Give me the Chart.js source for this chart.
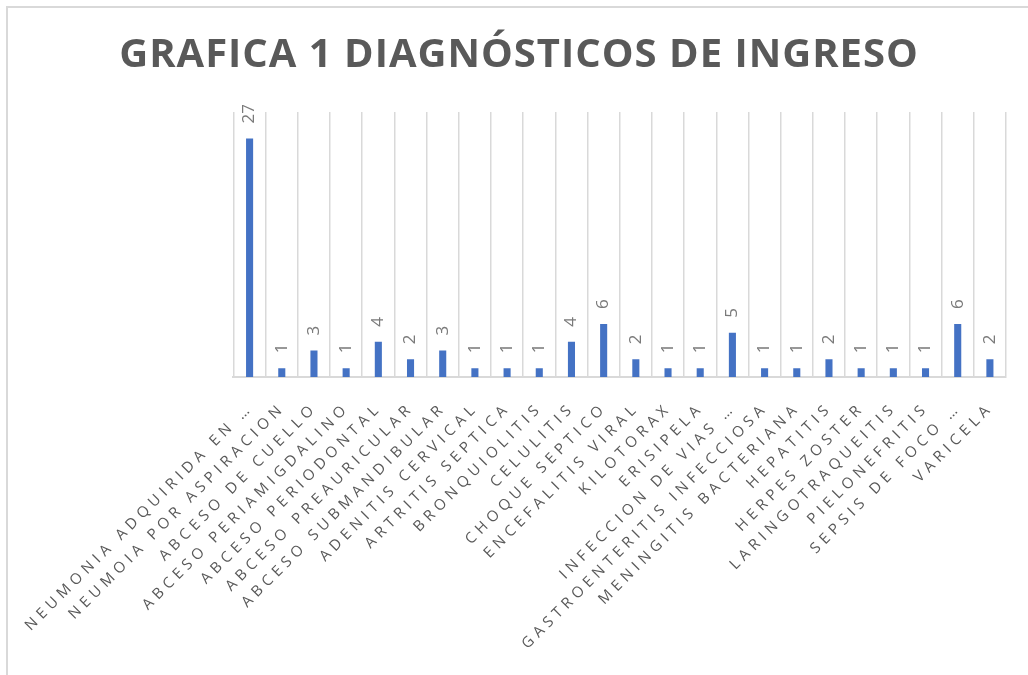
<!DOCTYPE html>
<html>
<head>
<meta charset="utf-8">
<script src="https://cdn.jsdelivr.net/npm/chart.js@4/dist/chart.umd.min.js"></script>
<style>
  html, body { margin: 0; padding: 0; background: #fff; width: 1028px; height: 675px; overflow: hidden; }
  #frame { position: absolute; left: 6px; top: 6px; width: 1100px; height: 700px;
           border-left: 2px solid #d9d9d9; border-top: 2px solid #d9d9d9; }
  #c { position: absolute; left: 0; top: 0; }
</style>
</head>
<body>
<div id="frame"></div>
<canvas id="c" width="1028" height="675"></canvas>
<script>
const titleText = 'GRAFICA 1 DIAGNÓSTICOS DE INGRESO';
const categories = [
  'NEUMONIA ADQUIRIDA EN …',
  'NEUMOIA POR ASPIRACION',
  'ABCESO DE CUELLO',
  'ABCESO PERIAMIGDALINO',
  'ABCESO PERIODONTAL',
  'ABCESO PREAURICULAR',
  'ABCESO SUBMANDIBULAR',
  'ADENITIS CERVICAL',
  'ARTRITIS SEPTICA',
  'BRONQUIOLITIS',
  'CELULITIS',
  'CHOQUE SEPTICO',
  'ENCEFALITIS VIRAL',
  'KILOTORAX',
  'ERISIPELA',
  'INFECCION DE VIAS …',
  'GASTROENTERITIS INFECCIOSA',
  'MENINGITIS BACTERIANA',
  'HEPATITIS',
  'HERPES ZOSTER',
  'LARINGOTRAQUEITIS',
  'PIELONEFRITIS',
  'SEPSIS DE FOCO …',
  'VARICELA'
];
const values = [27, 1, 3, 1, 4, 2, 3, 1, 1, 1, 4, 6, 2, 1, 1, 5, 1, 1, 2, 1, 1, 1, 6, 2];
const yMin = 0;
const yMax = 30;

const LABEL_SPACING = '4.8px';
const TITLE_SPACING = '1px';

// letter spacing for category labels (measure + draw)
const Cat = Chart.CategoryScale || Chart.registry.getScale('category');
['_computeLabelSizes', 'drawLabels'].forEach(fn => {
  const orig = Cat.prototype[fn];
  if (!orig) return;
  Cat.prototype[fn] = function (...a) {
    const c = this.ctx;
    c.save();
    c.letterSpacing = LABEL_SPACING;
    try { return orig.apply(this, a); } finally { c.restore(); }
  };
});
// letter spacing for title
if (Chart.Title && Chart.Title._element) {
  const TP = Chart.Title._element.prototype;
  const origDraw = TP.draw;
  TP.draw = function (...a) {
    const c = this.ctx;
    c.save();
    c.letterSpacing = TITLE_SPACING;
    try { return origDraw.apply(this, a); } finally { c.restore(); }
  };
}

const valueLabels = {
  id: 'valueLabels',
  afterDatasetsDraw(chart) {
    const ctx = chart.ctx;
    const meta = chart.getDatasetMeta(0);
    const data = chart.data.datasets[0].data;
    ctx.save();
    ctx.font = '17px "Open Sans"';
    ctx.fillStyle = '#7a7a7a';
    ctx.textAlign = 'left';
    ctx.textBaseline = 'middle';
    meta.data.forEach((bar, i) => {
      ctx.save();
      ctx.translate(bar.x, bar.y - 15);
      ctx.rotate(-Math.PI / 2);
      ctx.fillText(String(data[i]), 0, 0);
      ctx.restore();
    });
    ctx.restore();
  }
};

new Chart(document.getElementById('c'), {
  type: 'bar',
  data: {
    labels: categories,
    datasets: [{
      data: values,
      backgroundColor: '#4472C4',
      borderWidth: 0,
      barPercentage: 0.22,
      categoryPercentage: 1
    }]
  },
  plugins: [valueLabels],
  options: {
    responsive: false,
    animation: false,
    devicePixelRatio: 1,
    layout: { padding: { left: 10, right: 0, top: 0, bottom: 0 } },
    plugins: {
      legend: { display: false },
      tooltip: { enabled: false },
      title: {
        display: true,
        text: titleText,
        color: '#595959',
        font: { family: '"Open Sans"', size: 40, weight: 'bold', lineHeight: 1.2 },
        padding: { top: 32, bottom: 32 }
      }
    },
    scales: {
      x: {
        offset: true,
        grid: { display: true, offset: true, color: '#d9d9d9', lineWidth: 1.5, drawTicks: false },
        border: { display: true, color: '#d9d9d9', width: 2 },
        ticks: {
          autoSkip: false,
          maxRotation: 45,
          minRotation: 45,
          padding: 22,
          labelOffset: 1,
          color: '#595959',
          font: { family: '"Open Sans"', size: 15 }
        },
        afterFit(scale) { scale.height = 675 - 377; }
      },
      y: {
        display: true,
        position: 'left',
        min: yMin,
        max: yMax,
        ticks: { display: false },
        grid: { display: false },
        border: { display: false },
        afterFit(scale) { scale.width = 221; }
      },
      yRight: {
        display: true,
        position: 'right',
        min: yMin,
        max: yMax,
        ticks: { display: false },
        grid: { display: false },
        border: { display: false },
        afterFit(scale) { scale.width = 22; }
      }
    }
  }
});
</script>
</body>
</html>
